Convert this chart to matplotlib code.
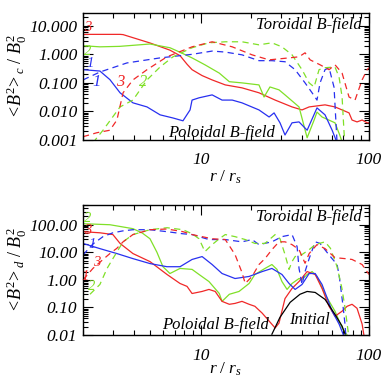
import numpy as np
import matplotlib
matplotlib.use("Agg")
import matplotlib.pyplot as plt
from matplotlib.ticker import FixedLocator, FixedFormatter, NullFormatter

plt.rcParams['font.family'] = ['Liberation Serif', 'DejaVu Serif']
plt.rcParams['mathtext.fontset'] = 'custom'
plt.rcParams['mathtext.rm'] = 'Liberation Serif'
plt.rcParams['mathtext.it'] = 'Liberation Serif:italic'

RED = '#f02828'
GREEN = '#80e028'
BLUE = '#2830f0'

# ---------------- top panel (<B^2>_c / B_0^2) ----------------
top_red_sol_r = [2.0, 2.52, 3.32, 3.46, 5.0, 6.57, 7.54, 8.3, 8.89, 10.2, 11.7, 14.0, 17.6, 22.2, 27.7, 34.9, 40.0, 44.1, 54.8, 62.8, 69.2, 76.1, 79.3, 84.9, 91.0, 97.5, 100]
top_red_sol_v = [5.0, 5.0, 5.0, 4.9, 2.5, 1.4, 0.9, 0.45, 0.29, 0.18, 0.127, 0.085, 0.067, 0.045, 0.025, 0.0144, 0.0113, 0.0144, 0.017, 0.0144, 0.0113, 0.0089, 0.005, 0.0043, 0.005, 0.004, 0.004]

top_grn_sol_r = [2.0, 2.52, 3.3, 5.0, 6.57, 7.5, 8.89, 10.6, 12.9, 14.8, 17.6, 22.2, 23.8, 25.8, 29.2, 31.7, 38.4, 42.9, 47.2, 49.1, 52.6, 62.8, 67.0, 70.0]
top_grn_sol_v = [2.0, 1.83, 1.9, 2.3, 1.7, 1.2, 0.75, 0.43, 0.22, 0.11, 0.1, 0.085, 0.032, 0.072, 0.057, 0.038, 0.0144, 0.0012, 0.005, 0.0095, 0.0064, 0.004, 0.0015, 0.0007]

top_blu_sol_r = [2.0, 2.52, 2.89, 3.32, 3.96, 4.8, 5.74, 6.85, 7.85, 8.65, 8.89, 9.78, 11.7, 13.4, 15.4, 17.6, 22.2, 25.5, 27.3, 29.6, 31.7, 34.9, 38.4, 42.9, 49.1, 54.8, 60.4, 64.6]
top_blu_sol_v = [0.29, 0.26, 0.13, 0.045, 0.02, 0.0144, 0.0076, 0.0059, 0.0047, 0.0113, 0.025, 0.030, 0.038, 0.025, 0.025, 0.020, 0.0113, 0.0064, 0.0089, 0.004, 0.0015, 0.004, 0.0043, 0.0022, 0.0133, 0.0076, 0.0022, 0.0008]

top_blu_das_r = [2.0, 2.52, 3.65, 5.74, 8.89, 11.7, 14.0, 17.6, 22.2, 26.5, 31.7, 36.4, 41.7, 45.9, 49.1, 51.2, 54.8, 57.9, 62.0, 64.6]
top_blu_das_v = [0.127, 0.24, 0.5, 0.75, 1.0, 1.3, 1.2, 0.96, 0.6, 0.6, 0.55, 0.29, 0.1, 0.045, 0.025, 0.1, 0.29, 0.34, 0.07, 0.0008]

top_grn_das_r = [2.29, 2.63, 3.32, 3.96, 4.8, 5.74, 6.85, 8.89, 11.2, 14.0, 17.6, 22.2, 26.5, 30.4, 34.9, 40.0, 44.1, 47.2, 50.5, 54.8, 62.8, 66.4, 69.2, 71.1, 72.0]
top_grn_das_v = [0.0008, 0.0022, 0.0144, 0.025, 0.127, 0.36, 0.82, 1.7, 2.53, 2.75, 2.75, 2.15, 2.53, 1.83, 0.96, 0.29, 0.1, 0.072, 0.29, 0.34, 0.36, 0.16, 0.032, 0.0018, 0.0008]

top_red_das_r = [2.0, 2.42, 2.89, 3.18, 3.46, 3.96, 4.8, 6.31, 8.89, 11.7, 15.4, 20.2, 25.5, 33.5, 38.4, 41.7, 44.7, 51.2, 57.9, 62.8, 69.2, 76.1, 82.6, 91.0, 97.5, 100]
top_red_das_v = [0.0013, 0.0018, 0.0022, 0.005, 0.045, 0.127, 0.29, 0.82, 1.83, 2.75, 1.83, 0.96, 0.64, 0.75, 0.82, 1.13, 0.64, 0.43, 0.29, 0.43, 0.22, 0.032, 0.025, 0.127, 0.29, 0.34]

# ---------------- bottom panel (<B^2>_d / B_0^2) ----------------
bot_grn_sol_r = [2.0, 2.89, 3.96, 4.5, 5.0, 5.5, 5.97, 6.57, 7.54, 8.89, 9.78, 11.2, 12.9, 13.4, 14.8, 16.9, 19.4, 21.0, 24.1, 26.5, 28.4, 30.4, 32.6, 34.9, 38.4, 40.0, 42.9, 45.9, 49.1, 54.8, 62.8, 69.2, 76.0]
bot_grn_sol_v = [109, 100, 72, 50, 31, 10, 3.0, 1.7, 2.6, 2.4, 1.57, 0.87, 0.32, 0.166, 0.30, 0.38, 0.74, 1.57, 2.6, 3.6, 2.4, 0.87, 0.45, 0.74, 1.12, 1.03, 1.57, 2.0, 1.33, 0.30, 0.073, 0.018, 0.008]

bot_red_sol_r = [2.0, 2.52, 3.01, 3.32, 3.96, 5.0, 6.31, 7.54, 8.3, 8.89, 10.2, 11.2, 12.2, 13.4, 14.8, 16.0, 17.6, 19.4, 21.0, 23.2, 25.5, 27.7, 29.2, 31.7, 34.9, 38.4, 42.9, 47.9, 52.6, 57.9, 62.8, 69.2, 74.1, 79.3, 84.9, 91.0, 93.5]
bot_red_sol_v = [56, 51, 44, 21, 9.0, 4.6, 1.57, 0.74, 0.58, 0.32, 0.38, 0.45, 0.38, 0.166, 0.13, 0.14, 0.166, 0.13, 0.11, 0.062, 0.032, 0.018, 0.027, 0.21, 0.49, 0.87, 2.0, 1.57, 0.49, 0.11, 0.048, 0.073, 0.11, 0.13, 0.093, 0.025, 0.009]

bot_blu_sol_r = [2.0, 2.52, 3.18, 3.96, 5.0, 6.31, 7.54, 8.89, 10.2, 11.7, 13.4, 16.0, 19.4, 23.2, 26.5, 30.4, 33.5, 36.4, 40.0, 44.1, 47.9, 52.6, 60.4, 66.4, 71.0]
bot_blu_sol_v = [21, 13.6, 9.0, 5.9, 3.9, 3.0, 3.0, 5.5, 7.0, 3.6, 1.7, 1.12, 1.33, 2.0, 2.6, 1.57, 0.74, 0.45, 0.68, 1.7, 1.7, 0.68, 0.073, 0.025, 0.009]

bot_blu_das_r = [2.0, 2.29, 2.63, 3.01, 3.46, 3.96, 5.0, 6.31, 7.85, 8.89, 11.2, 14.0, 17.6, 20.2, 22.2, 26.5, 30.4, 34.9, 37.4, 38.4, 40.0, 41.7, 44.1, 47.9, 51.2, 57.9, 64.6, 66.4, 68.0, 70.0, 72.0, 73.0]
bot_blu_das_v = [8.0, 20, 37, 51, 60, 66, 66, 56, 47, 44, 29, 29, 24, 29, 19, 24, 37, 44, 16, 2.6, 0.68, 2.0, 5.9, 24, 21, 8.0, 3.6, 1.5, 0.5, 0.12, 0.025, 0.008]

bot_grn_das_r = [2.2, 2.52, 2.78, 3.01, 3.46, 3.96, 5.0, 6.31, 7.85, 8.89, 9.78, 10.6, 11.7, 12.9, 14.0, 16.0, 18.4, 21.0, 24.1, 27.7, 29.6, 31.7, 33.5, 34.9, 36.4, 40.0, 44.1, 47.9, 54.8, 59.0, 64.6, 69.0, 72.0, 75.0, 76.0]
bot_grn_das_v = [0.3, 0.68, 2.6, 5.9, 24, 44, 66, 78, 66, 47, 31, 10.6, 19, 31, 44, 37, 29, 21, 21, 44, 31, 8.3, 2.4, 4.6, 7.0, 8.3, 12.5, 19, 24, 14, 3.0, 0.5, 0.1, 0.015, 0.008]

bot_red_das_r = [2.0, 2.29, 2.63, 2.89, 3.18, 3.46, 3.96, 5.0, 6.31, 7.85, 8.89, 11.7, 14.0, 16.0, 17.6, 18.4, 20.2, 22.2, 24.1, 26.5, 29.2, 31.7, 34.9, 38.4, 41.7, 44.1, 49.1, 54.8, 62.8, 72.0, 79.3, 91.0, 100]
bot_red_das_v = [1.0, 2.6, 5.5, 9.0, 14, 24, 44, 66, 70, 56, 44, 31, 29, 8.3, 1.85, 0.74, 1.33, 3.6, 5.9, 12.5, 24, 24, 19, 12.5, 4.0, 9.0, 19, 13.6, 6.4, 5.9, 5.5, 3.6, 1.57]

init_r = [26.5, 29.6, 34.0, 38.9, 42.9, 47.9, 54.8, 62.8, 69.2, 72.1]
init_v = [0.0107, 0.044, 0.153, 0.30, 0.38, 0.35, 0.196, 0.056, 0.021, 0.0107]

x_ticks = [10, 100]
x_ticklabels = ['10', '100']
top_yticks = [0.001, 0.01, 0.1, 1, 10]
top_yticklabels = ['0.001', '0.010', '0.100', '1.000', '10.000']
bot_yticks = [0.01, 0.1, 1, 10, 100]
bot_yticklabels = ['0.01', '0.10', '1.00', '10.00', '100.00']

fig = plt.figure(figsize=(3.84, 3.84), dpi=100)
ax1 = fig.add_axes([83/384, 1-140/384, 286/384, 127/384])
ax2 = fig.add_axes([83/384, 1-335/384, 286/384, 130/384])

tfont = dict(family='Liberation Serif', style='italic', size=12)
nfont = dict(family='Liberation Serif', style='italic', size=10.5)

def style_axes(ax, yticks, ylabels, ylim):
    ax.set_xscale('log')
    ax.set_yscale('log')
    ax.set_xlim(2, 100)
    ax.set_ylim(*ylim)
    ax.xaxis.set_major_locator(FixedLocator(x_ticks))
    ax.xaxis.set_major_formatter(FixedFormatter(x_ticklabels))
    minx = [v * d for d in (1, 10) for v in range(2, 10)]
    ax.xaxis.set_minor_locator(FixedLocator(minx))
    ax.xaxis.set_minor_formatter(NullFormatter())
    ax.yaxis.set_major_locator(FixedLocator(yticks))
    ax.yaxis.set_major_formatter(FixedFormatter(ylabels))
    miny = [v * 10.0 ** e for e in range(-4, 4) for v in range(2, 10)]
    ax.yaxis.set_minor_locator(FixedLocator(miny))
    ax.yaxis.set_minor_formatter(NullFormatter())
    ax.tick_params(which='both', direction='in', top=True, right=True, width=0.8)
    ax.tick_params(which='major', length=7)
    ax.tick_params(which='minor', length=3.5)
    ax.tick_params(axis='x', which='major', pad=9)
    ax.tick_params(axis='y', which='major', pad=4)
    for lab in ax.get_xticklabels() + ax.get_yticklabels():
        lab.set_fontfamily('Liberation Serif')
        lab.set_fontstyle('italic')
        lab.set_fontsize(12.5)
    for sp in ax.spines.values():
        sp.set_linewidth(1.0)

dash = (0, (5, 3.5))
lw = 0.9

style_axes(ax1, top_yticks, top_yticklabels, (0.001, 28))
ax1.plot(top_red_sol_r, top_red_sol_v, color=RED, lw=lw)
ax1.plot(top_grn_sol_r, top_grn_sol_v, color=GREEN, lw=lw)
ax1.plot(top_blu_sol_r, top_blu_sol_v, color=BLUE, lw=lw)
ax1.plot(top_blu_das_r, top_blu_das_v, color=BLUE, lw=lw, ls=dash)
ax1.plot(top_grn_das_r, top_grn_das_v, color=GREEN, lw=lw, ls=dash)
ax1.plot(top_red_das_r, top_red_das_v, color=RED, lw=lw, ls=dash)
ax1.set_ylabel(r'$<\!B^2\!>_c\ /\ B_0^2$', fontsize=13)
ax1.yaxis.set_label_coords(-0.19, 0.5)
ax1.set_xlabel(r'$r\ /\ r_s$', fontsize=12.5)
ax1.xaxis.set_label_coords(0.5, -0.225)

ax1.text(0.976, 0.905, 'Toroidal B-field', transform=ax1.transAxes, ha='right', va='center', **tfont)
ax1.text(0.486, 0.055, 'Poloidal B-field', transform=ax1.transAxes, ha='center', va='center', **tfont)
ax1.text(0.017, 0.885, '3', color=RED, transform=ax1.transAxes, ha='center', va='center', **nfont)
ax1.text(0.017, 0.70, '2', color=GREEN, transform=ax1.transAxes, ha='center', va='center', **nfont)
ax1.text(0.026, 0.60, '1', color=BLUE, transform=ax1.transAxes, ha='center', va='center', **nfont)
ax1.text(0.049, 0.457, '1', color=BLUE, transform=ax1.transAxes, ha='center', va='center', **tfont)
ax1.text(0.129, 0.457, '3', color=RED, transform=ax1.transAxes, ha='center', va='center', **tfont)
ax1.text(0.21, 0.457, '2', color=GREEN, transform=ax1.transAxes, ha='center', va='center', **tfont)

style_axes(ax2, bot_yticks, bot_yticklabels, (0.01, 520))
ax2.plot(bot_grn_sol_r, bot_grn_sol_v, color=GREEN, lw=lw)
ax2.plot(bot_red_sol_r, bot_red_sol_v, color=RED, lw=lw)
ax2.plot(bot_blu_sol_r, bot_blu_sol_v, color=BLUE, lw=lw)
ax2.plot(bot_blu_das_r, bot_blu_das_v, color=BLUE, lw=lw, ls=dash)
ax2.plot(bot_grn_das_r, bot_grn_das_v, color=GREEN, lw=lw, ls=dash)
ax2.plot(bot_red_das_r, bot_red_das_v, color=RED, lw=lw, ls=dash)
ax2.plot(init_r, init_v, color='black', lw=lw)
ax2.set_ylabel(r'$<\!B^2\!>_d\ /\ B_0^2$', fontsize=13)
ax2.yaxis.set_label_coords(-0.19, 0.5)
ax2.set_xlabel(r'$r\ /\ r_s$', fontsize=12.5)
ax2.xaxis.set_label_coords(0.5, -0.2)

ax2.text(0.976, 0.908, 'Toroidal B-field', transform=ax2.transAxes, ha='right', va='center', **tfont)
ax2.text(0.462, 0.077, 'Poloidal B-field', transform=ax2.transAxes, ha='center', va='center', **tfont)
ax2.text(0.79, 0.115, 'Initial', transform=ax2.transAxes, ha='center', va='center', **tfont)
ax2.text(0.017, 0.90, '2', color=GREEN, transform=ax2.transAxes, ha='center', va='center', **nfont)
ax2.text(0.017, 0.80, '3', color=RED, transform=ax2.transAxes, ha='center', va='center', **nfont)
ax2.text(0.032, 0.70, '1', color=BLUE, transform=ax2.transAxes, ha='center', va='center', **nfont)
ax2.text(0.049, 0.56, '3', color=RED, transform=ax2.transAxes, ha='center', va='center', **nfont)
ax2.text(0.007, 0.45, '1', color=RED, transform=ax2.transAxes, ha='center', va='center', **nfont)
ax2.text(0.032, 0.37, '2', color=GREEN, transform=ax2.transAxes, ha='center', va='center', **nfont)

fig.savefig('out.png', dpi=100)
